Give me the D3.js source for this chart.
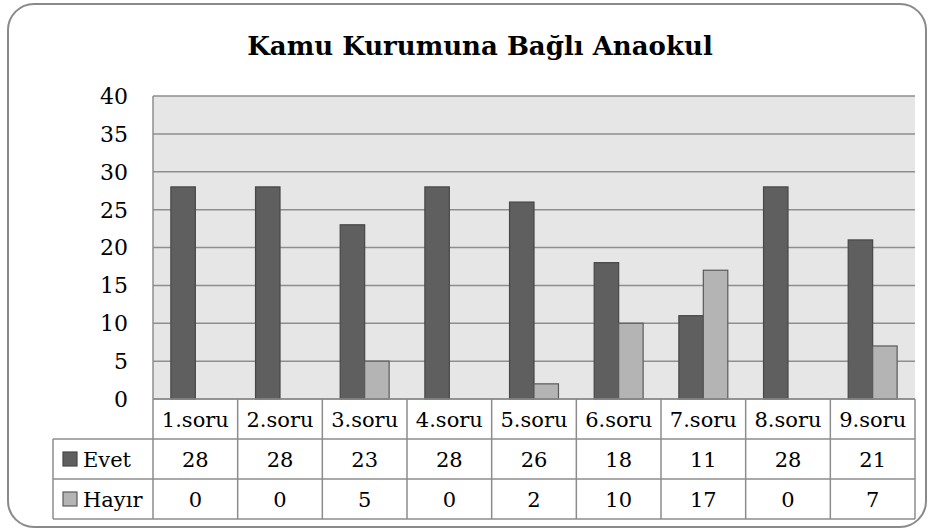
<!DOCTYPE html>
<html>
<head>
<meta charset="utf-8">
<script src="https://cdn.jsdelivr.net/npm/d3@7/dist/d3.min.js"></script>
<style>
  html, body { margin: 0; padding: 0; background: #fff; }
  svg { display: block; }
  text { font-family: "DejaVu Serif", serif; fill: #000; }
</style>
</head>
<body>
<div id="chart"></div>
<script>
const categories = ["1.soru", "2.soru", "3.soru", "4.soru", "5.soru", "6.soru", "7.soru", "8.soru", "9.soru"];
const seriesNames = ["Evet", "Hayır"];
const evet  = [28, 28, 23, 28, 26, 18, 11, 28, 21];
const hayir = [0, 0, 5, 0, 2, 10, 17, 0, 7];
const yTicks = [0, 5, 10, 15, 20, 25, 30, 35, 40];
const title = "Kamu Kurumuna Bağlı Anaokul";

const COLOR = d3.scaleOrdinal().domain(seriesNames).range(["#5f5f5f", "#b4b4b4"]);
const STROKE = d3.scaleOrdinal().domain(seriesNames).range(["#474747", "#5a5a5a"]);

const W = 934, H = 530;
const M = { left: 153, right: 19, top: 96, plotBottom: 399 };
const rowH = 40;
const legendLeft = 53;

const svg = d3.select("#chart").append("svg")
  .attr("width", W).attr("height", H)
  .attr("viewBox", `0 0 ${W} ${H}`);

// outer frame
svg.append("rect")
  .attr("x", 8).attr("y", 4)
  .attr("width", W - 16).attr("height", H - 7)
  .attr("rx", 26).attr("ry", 26)
  .attr("fill", "#fff").attr("stroke", "#8a8a8a").attr("stroke-width", 2);

svg.append("text")
  .attr("x", 480).attr("y", 55)
  .attr("text-anchor", "middle")
  .attr("font-size", 26).attr("font-weight", "bold")
  .text(title);

const x = d3.scaleBand().domain(categories).range([M.left, W - M.right]).padding(0);
const xs = d3.scaleBand().domain(seriesNames).range([0, x.bandwidth()])
  .paddingInner(0).paddingOuter(0.73);
const y = d3.scaleLinear().domain([0, 40]).range([M.plotBottom, M.top]);

// plot area
svg.append("rect")
  .attr("x", M.left).attr("y", M.top)
  .attr("width", W - M.right - M.left).attr("height", M.plotBottom - M.top)
  .attr("fill", "#e6e6e6");

svg.append("g").selectAll("line")
  .data(yTicks)
  .join("line")
  .attr("x1", M.left).attr("x2", W - M.right)
  .attr("y1", d => y(d)).attr("y2", d => y(d))
  .attr("stroke", "#8e8e8e").attr("stroke-width", 1.5);

svg.append("line")
  .attr("x1", M.left).attr("x2", M.left)
  .attr("y1", M.top).attr("y2", M.plotBottom)
  .attr("stroke", "#8e8e8e").attr("stroke-width", 1.5);

svg.append("g").selectAll("text")
  .data(yTicks)
  .join("text")
  .attr("x", 128).attr("y", d => y(d))
  .attr("dy", "0.36em")
  .attr("text-anchor", "end")
  .attr("font-size", 22)
  .text(d => d);

// bars
const barData = [];
categories.forEach((c, i) => {
  barData.push({ cat: c, series: "Evet", value: evet[i] });
  barData.push({ cat: c, series: "Hayır", value: hayir[i] });
});

svg.append("g").selectAll("rect")
  .data(barData.filter(d => d.value > 0))
  .join("rect")
  .attr("x", d => x(d.cat) + xs(d.series))
  .attr("y", d => y(d.value))
  .attr("width", xs.bandwidth())
  .attr("height", d => y(0) - y(d.value))
  .attr("fill", d => COLOR(d.series))
  .attr("stroke", d => STROKE(d.series))
  .attr("stroke-width", 1.2);

// data table
const tableG = svg.append("g");
const rows = [
  { name: null, values: categories },
  { name: "Evet", values: evet },
  { name: "Hayır", values: hayir }
];
const rowTop = i => M.plotBottom + i * rowH;
const lineColor = "#8c8c8c";

// horizontal lines
[0, 1, 2, 3].forEach(i => {
  tableG.append("line")
    .attr("x1", i === 0 ? M.left : legendLeft).attr("x2", W - M.right)
    .attr("y1", rowTop(i)).attr("y2", rowTop(i))
    .attr("stroke", lineColor).attr("stroke-width", 1.5);
});
// vertical lines
const vx = categories.map(c => x(c)).concat([W - M.right]);
vx.forEach(v => {
  tableG.append("line")
    .attr("x1", v).attr("x2", v)
    .attr("y1", rowTop(0)).attr("y2", rowTop(3))
    .attr("stroke", lineColor).attr("stroke-width", 1.5);
});
tableG.append("line")
  .attr("x1", legendLeft).attr("x2", legendLeft)
  .attr("y1", rowTop(1)).attr("y2", rowTop(3))
  .attr("stroke", lineColor).attr("stroke-width", 1.5);

rows.forEach((r, ri) => {
  tableG.append("g").selectAll("text")
    .data(r.values)
    .join("text")
    .attr("x", (d, i) => x(categories[i]) + x.bandwidth() / 2)
    .attr("y", rowTop(ri) + rowH / 2)
    .attr("dy", "0.36em")
    .attr("text-anchor", "middle")
    .attr("font-size", 21)
    .text(d => d);
  if (r.name) {
    tableG.append("rect")
      .attr("x", 63).attr("y", rowTop(ri) + rowH / 2 - 7)
      .attr("width", 14).attr("height", 14)
      .attr("fill", COLOR(r.name)).attr("stroke", STROKE(r.name)).attr("stroke-width", 1.2);
    tableG.append("text")
      .attr("x", 83).attr("y", rowTop(ri) + rowH / 2)
      .attr("dy", "0.36em")
      .attr("font-size", 21)
      .text(r.name);
  }
});
</script>
</body>
</html>
